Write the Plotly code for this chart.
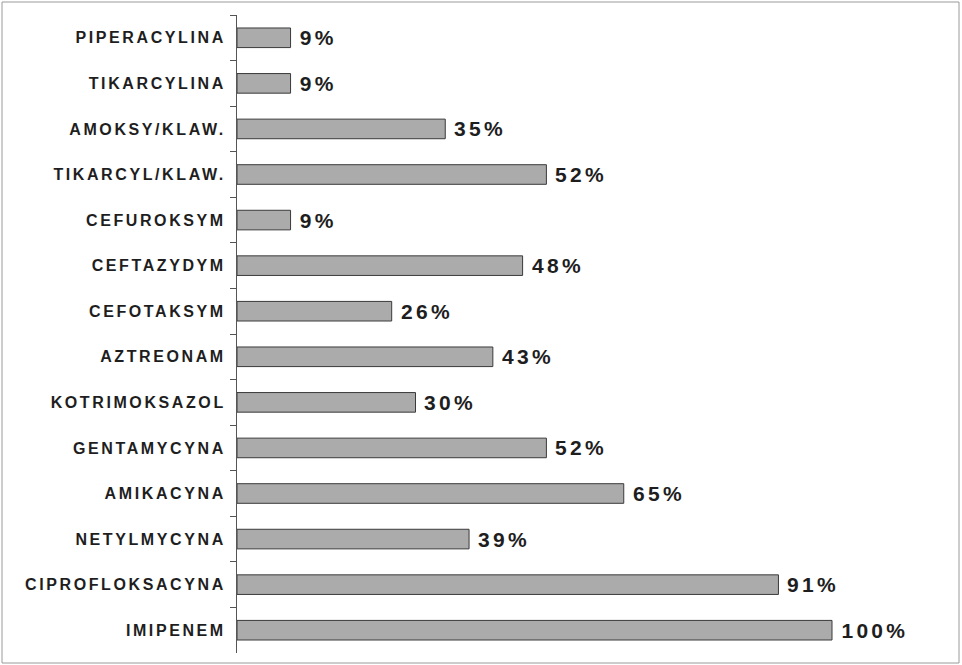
import plotly.graph_objects as go

categories = ["PIPERACYLINA", "TIKARCYLINA", "AMOKSY/KLAW.", "TIKARCYL/KLAW.", "CEFUROKSYM",
              "CEFTAZYDYM", "CEFOTAKSYM", "AZTREONAM", "KOTRIMOKSAZOL", "GENTAMYCYNA",
              "AMIKACYNA", "NETYLMYCYNA", "CIPROFLOKSACYNA", "IMIPENEM"]
values = [9, 9, 35, 52, 9, 48, 26, 43, 30, 52, 65, 39, 91, 100]
value_labels = [f"{v}%" for v in values]

FONT = "Liberation Sans, Arial"
VAL_SPACING = 3.3
TICK_SPACING = 2.6

fig = go.Figure(go.Bar(
    x=values, y=categories, orientation="h",
    marker=dict(color="#ababab", line=dict(color="#3a3a3a", width=1)),
    width=0.43,
))

for v, c, t in zip(values, categories, value_labels):
    fig.add_annotation(x=v, y=c, text=t, showarrow=False, xanchor="left", yanchor="middle",
                       xshift=7 + len(t) * VAL_SPACING / 2,
                       font=dict(family=FONT, size=21, color="#1e1e1e", weight="bold"))

L, R, T, B = 237, 11, 15, 12
W, H = 962, 665
pw, ph = W - L - R, H - T - B

fig.update_layout(
    width=W, height=H,
    margin=dict(l=L, r=R, t=T, b=B),
    paper_bgcolor="white", plot_bgcolor="white",
    showlegend=False,
    xaxis=dict(range=[0, 120], visible=False),
    yaxis=dict(autorange="reversed", showline=True, linecolor="#555555", linewidth=1,
               ticks="outside", tickson="boundaries", ticklen=6, tickcolor="#555555",
               ticklabelstandoff=7,
               tickfont=dict(family=FONT, size=16, color="#1e1e1e", weight="bold"),
               showgrid=False),
    shapes=[dict(type="rect", xref="paper", yref="paper",
                 x0=-(L - 2) / pw, x1=1 + (R - 3) / pw, y0=-(B - 2) / ph, y1=1 + (T - 2) / ph,
                 line=dict(color="#9a9a9a", width=1))],
)

post = """
var gd = document.getElementById('{plot_id}');
gd.querySelectorAll('.ytick text').forEach(function(t){ t.style.letterSpacing='%spx'; });
gd.querySelectorAll('.annotation-text').forEach(function(t){ t.style.letterSpacing='%spx'; });
""" % (TICK_SPACING, VAL_SPACING)

fig.write_html("out.html", post_script=post)
